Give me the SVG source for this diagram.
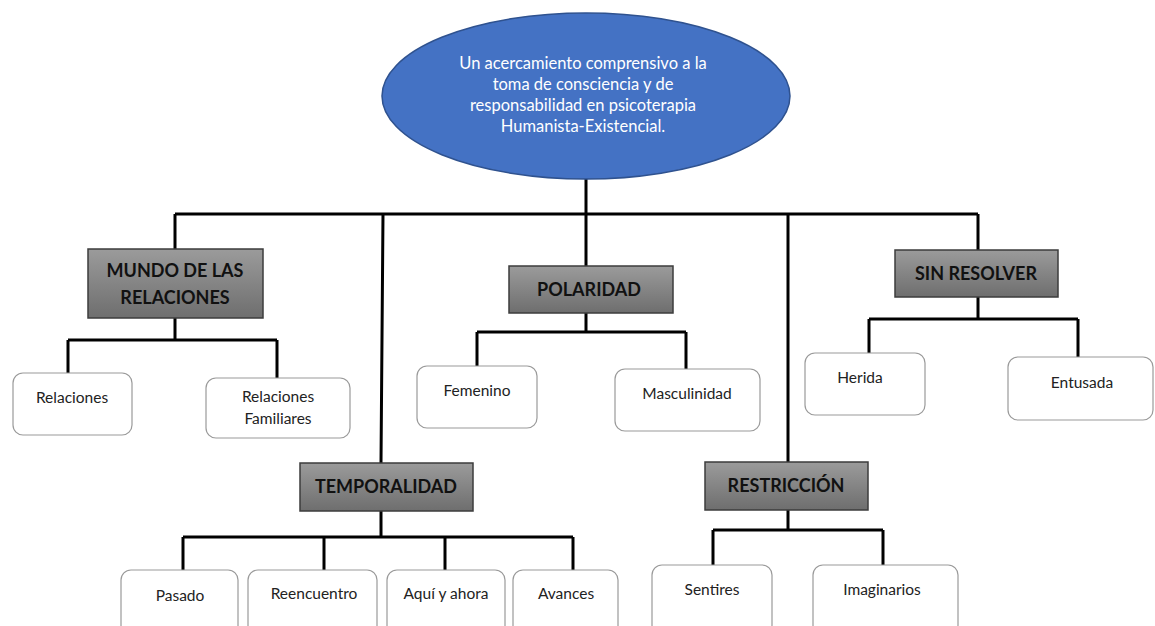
<svg xmlns="http://www.w3.org/2000/svg" width="1155" height="626" viewBox="0 0 1155 626">
<defs>
<linearGradient id="g" x1="0" y1="0" x2="0" y2="1">
<stop offset="0" stop-color="#9b9b9b"/>
<stop offset="1" stop-color="#6e6e6e"/>
</linearGradient>
<style>
.hd{fill:url(#g);stroke:#3c3c3c;stroke-width:1.5}
.hdt{font-family:Lato,"Liberation Sans",sans-serif;font-weight:bold;font-size:18px;fill:#111;text-anchor:middle}
.ch{fill:#fff;stroke:#9a9a9a;stroke-width:1.2}
.cht{font-family:Lato,"Liberation Sans",sans-serif;font-size:15.5px;fill:#222;text-anchor:middle}
.et{font-family:Lato,"Liberation Sans",sans-serif;font-size:16.5px;fill:#fff;text-anchor:middle}
.ln{fill:none;stroke:#000;stroke-width:3}
</style>
</defs>
<rect width="1155" height="626" fill="#fff"/>
<g id="connectors">
<path class="ln" d="M586 178V214M175 214H978M175 214V249M383 214L381 463M586 214V266M788 214V462M978 214V250"/>
<path class="ln" d="M175 318V340M68 340H277M68 340V373M277 340V378"/>
<path class="ln" d="M586 313V332M477 332H686M477 332V366M686 332V369"/>
<path class="ln" d="M978 297V319M869 319H1078M869 319V353M1078 319V357"/>
<path class="ln" d="M381 511V537M183 537H573M183 537V570M324 537V570M445 537V570M573 537V570"/>
<path class="ln" d="M788 510V530M713 530H883M713 530V565M883 530V565"/>
</g>
<g id="root">
<ellipse cx="586" cy="96" rx="204" ry="83" fill="#4472c4" stroke="#2f528f" stroke-width="1.5"/>
<text class="et" x="583" y="69">Un acercamiento comprensivo a la</text>
<text class="et" x="583" y="90">toma de consciencia y de</text>
<text class="et" x="583" y="111">responsabilidad en psicoterapia</text>
<text class="et" x="583" y="132">Humanista-Existencial.</text>
</g>
<g id="mundo">
<rect class="hd" x="88" y="249" width="175" height="69"/>
<text class="hdt" x="175" y="277">MUNDO DE LAS</text>
<text class="hdt" x="175" y="304">RELACIONES</text>
</g>
<g id="polaridad">
<rect class="hd" x="509" y="266" width="164" height="47"/>
<text class="hdt" x="589" y="296">POLARIDAD</text>
</g>
<g id="sinresolver">
<rect class="hd" x="895" y="250" width="163" height="47"/>
<text class="hdt" x="976" y="280">SIN RESOLVER</text>
</g>
<g id="temporalidad">
<rect class="hd" x="300" y="463" width="173" height="48"/>
<text class="hdt" x="386" y="493">TEMPORALIDAD</text>
</g>
<g id="restriccion">
<rect class="hd" x="705" y="462" width="163" height="48"/>
<text class="hdt" x="786" y="492">RESTRICCIÓN</text>
</g>
<g id="relaciones">
<rect class="ch" x="13" y="373" width="119" height="62" rx="10"/>
<text class="cht" x="72" y="403">Relaciones</text>
</g>
<g id="relfam">
<rect class="ch" x="206" y="378" width="144" height="60" rx="10"/>
<text class="cht" x="278" y="402">Relaciones</text>
<text class="cht" x="278" y="424">Familiares</text>
</g>
<g id="femenino">
<rect class="ch" x="417" y="366" width="120" height="62" rx="10"/>
<text class="cht" x="477" y="396">Femenino</text>
</g>
<g id="masculinidad">
<rect class="ch" x="615" y="369" width="145" height="62" rx="10"/>
<text class="cht" x="687" y="399">Masculinidad</text>
</g>
<g id="herida">
<rect class="ch" x="805" y="353" width="120" height="62" rx="10"/>
<text class="cht" x="860" y="383">Herida</text>
</g>
<g id="entusada">
<rect class="ch" x="1008" y="357" width="145" height="63" rx="10"/>
<text class="cht" x="1082" y="388">Entusada</text>
</g>
<g id="pasado">
<rect class="ch" x="121" y="570" width="117" height="70" rx="10"/>
<text class="cht" x="180" y="601">Pasado</text>
</g>
<g id="reencuentro">
<rect class="ch" x="248" y="570" width="129" height="70" rx="10"/>
<text class="cht" x="314" y="599">Reencuentro</text>
</g>
<g id="aqui">
<rect class="ch" x="387" y="570" width="118" height="70" rx="10"/>
<text class="cht" x="446" y="599">Aquí y ahora</text>
</g>
<g id="avances">
<rect class="ch" x="513" y="570" width="105" height="70" rx="10"/>
<text class="cht" x="566" y="599">Avances</text>
</g>
<g id="sentires">
<rect class="ch" x="652" y="565" width="120" height="70" rx="10"/>
<text class="cht" x="712" y="595">Sentires</text>
</g>
<g id="imaginarios">
<rect class="ch" x="813" y="565" width="145" height="70" rx="10"/>
<text class="cht" x="882" y="595">Imaginarios</text>
</g>
</svg>
